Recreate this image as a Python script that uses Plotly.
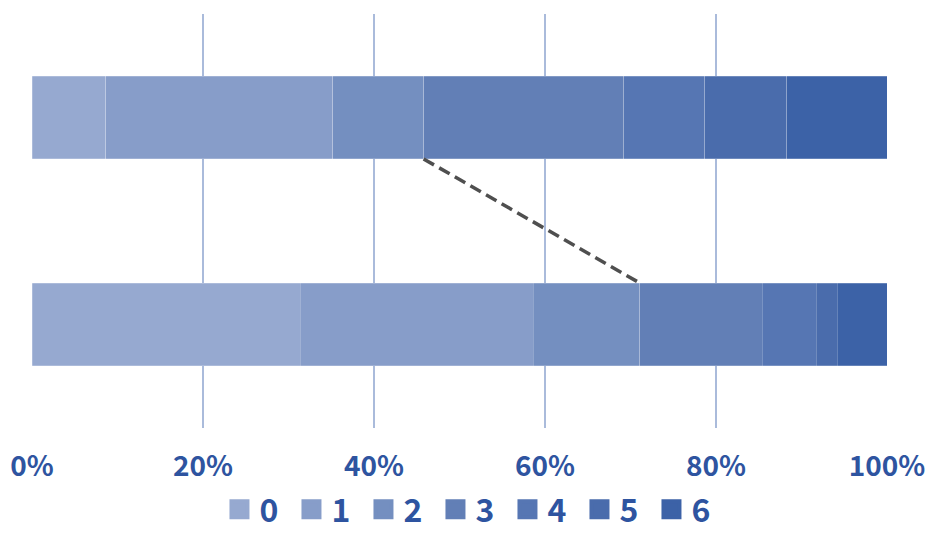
import plotly.graph_objects as go

# Share (%) of each score level, for the two groups (upper bar, lower bar)
levels = ["0", "1", "2", "3", "4", "5", "6"]
upper_share = [8.6, 26.6, 10.6, 23.4, 9.5, 9.6, 11.7]
lower_share = [31.4, 27.2, 12.5, 14.3, 6.3, 2.5, 5.8]
level_colors = ["#96A9D0", "#879DC9", "#748FC0", "#627FB6", "#5676B3", "#4A6CAC", "#3C62A7"]
x_ticks = [0, 20, 40, 60, 80, 100]
x_tick_text = ["0%", "20%", "40%", "60%", "80%", "100%"]

# numeric row positions: upper bar at 1, lower bar at 0
row_pos = [1, 0]
bar_width = 0.4
text_color = "#2E54A0"
font_family = "Noto Sans CJK JP"

fig = go.Figure()

for i, lvl in enumerate(levels):
    fig.add_trace(go.Bar(
        x=[upper_share[i], lower_share[i]],
        y=row_pos,
        orientation="h",
        width=bar_width,
        marker=dict(color=level_colors[i], line=dict(color="rgba(255,255,255,0.35)", width=0.6)),
        name=lvl,
        showlegend=False,
        hoverinfo="x+name",
    ))

# legend entries with larger square swatches
for i, lvl in enumerate(levels):
    fig.add_trace(go.Scatter(
        x=[None], y=[None], mode="markers",
        marker=dict(symbol="square", size=16, color=level_colors[i],
                    line=dict(color=level_colors[i], width=4)),
        name=lvl, showlegend=True,
    ))

# dashed connector between the cumulative share of levels 0-2 in each bar
upper_cum = sum(upper_share[:3])
lower_cum = sum(lower_share[:3])
fig.add_trace(go.Scatter(
    x=[upper_cum, lower_cum],
    y=[row_pos[0] - bar_width / 2, row_pos[1] + bar_width / 2],
    mode="lines",
    line=dict(color="#4F4F4F", width=3.5, dash="12px,6px"),
    showlegend=False,
    hoverinfo="skip",
))

fig.update_layout(
    barmode="stack",
    width=926, height=537,
    margin=dict(l=31.5, r=39, t=14, b=109, autoexpand=False),
    paper_bgcolor="white",
    plot_bgcolor="white",
    font=dict(family=font_family, color=text_color, size=28, weight="bold"),
    showlegend=True,
    legend=dict(
        orientation="h",
        x=0.514, xanchor="center",
        y=-0.2633, yanchor="bottom",
        font=dict(size=32, color=text_color, family=font_family, weight="bold"),
        itemwidth=30,
        entrywidth=27,
        entrywidthmode="pixels",
        tracegroupgap=0,
        traceorder="normal",
    ),
    xaxis=dict(
        range=[0, 100],
        tickvals=x_ticks,
        ticktext=x_tick_text,
        showgrid=True,
        gridcolor="#AABBDB",
        gridwidth=1.5,
        zeroline=False,
        showline=False,
        ticks="",
        automargin=False,
        ticklabeloverflow="allow",
        ticklabelstandoff=19,
        tickfont=dict(size=28, color=text_color, family=font_family, weight="bold"),
        fixedrange=True,
    ),
    yaxis=dict(
        range=[-0.5, 1.5],
        showgrid=False,
        zeroline=False,
        showticklabels=False,
        ticks="",
        automargin=False,
        fixedrange=True,
    ),
)

fig.write_html("out.html")
